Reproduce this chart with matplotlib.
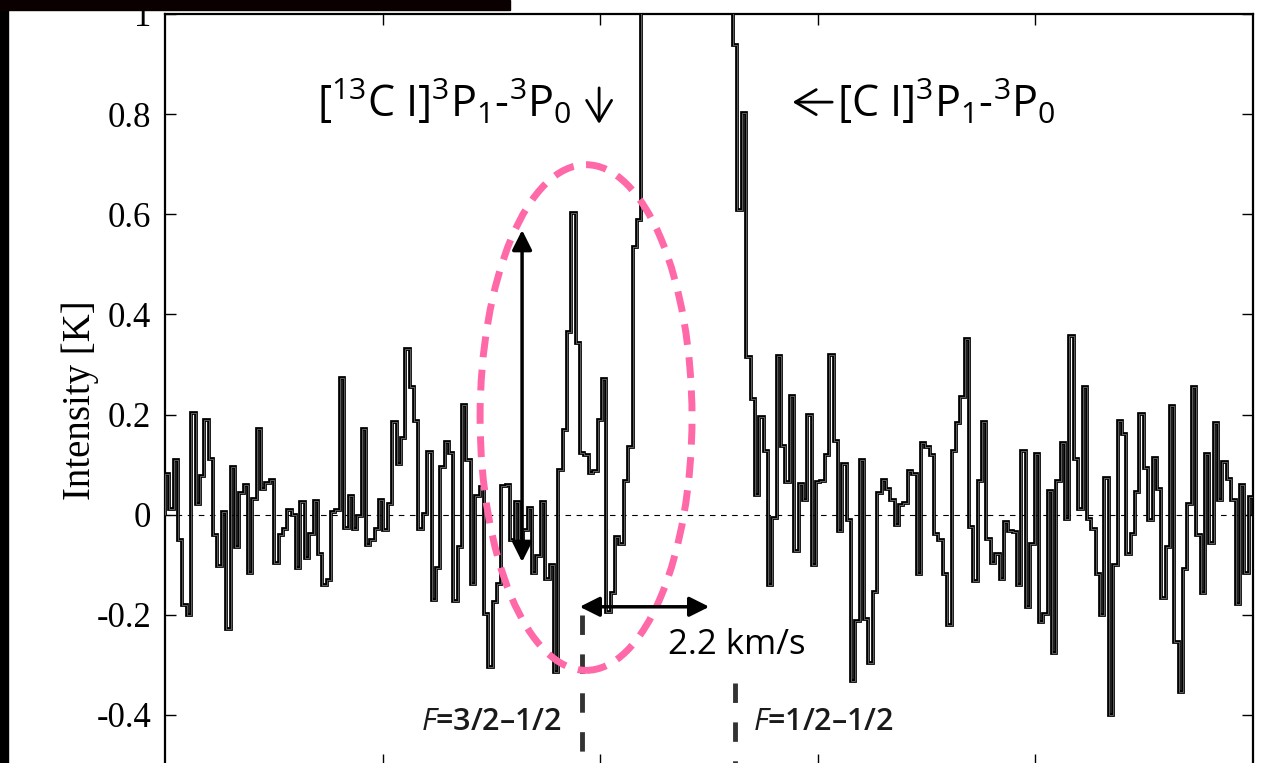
"""
[13C I] / [C I] 3P1-3P0 spectrum with annotations
"""
import matplotlib
matplotlib.use('Agg')
import matplotlib.pyplot as plt
import matplotlib.patches as mpatches
import numpy as np

plt.rcParams['mathtext.fontset'] = 'custom'
plt.rcParams['mathtext.rm'] = 'Open Sans'
plt.rcParams['mathtext.it'] = 'Open Sans:italic'
plt.rcParams['mathtext.fallback'] = 'stix'

# ---- spectrum (K), one value per channel ----
seg_left = [0.082, 0.012, 0.11, -0.051, -0.181, -0.201, 0.203, 0.021, 0.077, 0.19,
            0.111, -0.041, -0.103, 0.005, -0.228, 0.095, -0.065, 0.043, 0.059, -0.117,
            0.031, 0.171, 0.052, 0.063, 0.069, -0.097, -0.041, -0.028, 0.01, -0.001,
            -0.107, 0.025, -0.087, -0.038, 0.027, -0.079, -0.141, -0.13, 0.005, 0.01,
            0.273, -0.026, 0.037, -0.028, -0.003, 0.172, -0.06, -0.05, -0.028, 0.03,
            -0.031, 0.022, 0.185, 0.101, 0.153, 0.33, 0.255, 0.187, -0.028, 0.002,
            0.125, -0.171]
seg_13c = [-0.107, 0.095, 0.145, 0.123, -0.173, -0.065, 0.22, 0.109, -0.138, 0.037,
           0.055, -0.198, -0.305, -0.175, -0.138, 0.057, 0.059, -0.051, 0.025, -0.048,
           -0.03, 0.014, -0.117, -0.083, 0.025, -0.128, -0.1, -0.315, 0.089, 0.17,
           0.365, 0.603, 0.342, 0.123, 0.119, 0.083, 0.087, 0.189, 0.27, -0.195,
           -0.157, -0.045, -0.059, 0.067, 0.135, 0.535, 0.589]
# main [C I] line, off scale
seg_ci = [1.3, 2.1, 3.2, 4.5, 5.6, 6.4, 6.9, 7.1, 7.0, 6.6,
          5.9, 5.0, 4.1, 3.2, 2.5, 1.9, 1.5, 1.3, 1.2, 1.1, 1.05]
seg_right = [0.939, 0.609, 0.802, 0.315, 0.232, 0.04, 0.195, 0.128, -0.14, -0.006,
             0.316, 0.137, 0.065, 0.237, -0.073, 0.061, 0.03, 0.2, -0.1, 0.065,
             0.067, 0.119, 0.318, 0.148, -0.033, 0.101, -0.011, -0.333, -0.212, 0.11,
             -0.208, -0.297, -0.154, 0.043,
             0.07, 0.052, 0.029, -0.021, 0.019, 0.023, 0.087, 0.081, -0.119, 0.143,
             0.135, 0.12, -0.038, -0.051, -0.118, -0.221, 0.127, 0.183, 0.235, 0.35,
             -0.025, -0.133, 0.067, 0.185, -0.048, -0.097, -0.079, -0.128, -0.015, -0.033,
             -0.035, -0.141, 0.127, -0.185, -0.058, 0.121, -0.215, -0.198, 0.047, -0.277,
             0.067,
             0.143, -0.008, 0.357, 0.112, 0.012, 0.254, -0.008, -0.028, -0.118, -0.201,
             0.074, -0.401, -0.1, 0.187, 0.161, -0.078, -0.038, 0.045, 0.201, 0.094,
             -0.01, 0.114, 0.052, -0.166, -0.065, 0.217, -0.255, -0.355, -0.108, 0.021,
             0.255, -0.041, -0.157, 0.121, -0.057, 0.183, 0.03, 0.105, 0.072, 0.029,
             -0.178, 0.059, -0.117, 0.035]

intensity = np.array(seg_left + seg_13c + seg_ci + seg_right)
x_lo, x_hi = 0.0, 5.0
edges = np.linspace(x_lo, x_hi, len(intensity) + 1)

y_ticks = [-0.4, -0.2, 0, 0.2, 0.4, 0.6, 0.8, 1]
y_ticklabels = ['-0.4', '-0.2', '0', '0.2', '0.4', '0.6', '0.8', '1']
x_ticks = [1, 2, 3, 4]

pink = '#ff69a8'
serif = ['Liberation Serif', 'DejaVu Serif']
sans = ['Open Sans', 'DejaVu Sans']

fig = plt.figure(figsize=(12.67, 7.63), dpi=100, facecolor='white')
ax = fig.add_axes([165 / 1267, -2 / 763, 1088 / 1267, 751 / 763])

# outlined step line (black edge, grey core)
ax.stairs(intensity, edges, color='black', linewidth=2.7, zorder=3)
ax.stairs(intensity, edges, color='#6e6e6e', linewidth=0.6, zorder=4)
ax.axhline(0, color='black', linewidth=0.8, linestyle=(0, (5, 5)), zorder=2)

ax.set_xlim(x_lo, x_hi)
ax.set_ylim(-0.5, 1.0)
ax.set_xticks(x_ticks)
ax.set_yticks(y_ticks)
ax.set_yticklabels(y_ticklabels, family=serif, fontsize=25)
ax.tick_params(direction='in', length=8, width=1, top=True, right=True,
               labelbottom=False, pad=10)
for s in ax.spines.values():
    s.set_linewidth(1.6)

fig.text(80 / 1267, 1 - 400 / 763, 'Intensity [K]', rotation=90, ha='center', va='center',
         family=serif, fontsize=28)

# line labels
head = '->, head_length=0.5, head_width=0.3'
ax.text(0.70, 0.824, r'[$^{13}$C I]$^{3}$P$_{1}$-$^{3}$P$_{0}$', family=sans, fontsize=31,
        ha='left', va='center')
ax.annotate('', xy=(1.995, 0.775), xytext=(1.995, 0.858),
            arrowprops=dict(arrowstyle=head, color='black', lw=2, mutation_scale=30))
ax.annotate('', xy=(2.872, 0.824), xytext=(3.079, 0.824),
            arrowprops=dict(arrowstyle=head, color='black', lw=2, mutation_scale=30))
ax.text(3.09, 0.824, r'[C I]$^{3}$P$_{1}$-$^{3}$P$_{0}$', family=sans, fontsize=31,
        ha='left', va='center')

# hyperfine component markers
ax.plot([1.916, 1.916], [-0.2, -0.5], color='#333333', linewidth=3.5,
        linestyle=(0, (4, 4)), zorder=5)
ax.plot([2.619, 2.619], [-0.336, -0.5], color='#333333', linewidth=3.5,
        linestyle=(0, (4, 4)), zorder=5)
ax.text(1.82, -0.414, r'$\it{F}$=3/2–1/2', family=sans, fontsize=22, ha='right', va='center',
        color='#1a1a1a', fontweight='semibold')
ax.text(2.70, -0.414, r'$\it{F}$=1/2–1/2', family=sans, fontsize=22, ha='left', va='center',
        color='#1a1a1a', fontweight='semibold')

# pink dashed ellipse around the 13C feature
ell = mpatches.Ellipse((1.935, 0.194), 0.974, 1.01, fill=False, edgecolor=pink,
                       linewidth=5, linestyle=(0, (3, 1.8)), zorder=6)
ax.add_patch(ell)

# arrows
ax.annotate('', xy=(1.641, 0.574), xytext=(1.641, -0.1),
            arrowprops=dict(arrowstyle='<|-|>', color='black', lw=2.5, mutation_scale=30),
            zorder=7)
ax.annotate('', xy=(1.893, -0.184), xytext=(2.514, -0.184),
            arrowprops=dict(arrowstyle='<|-|>', color='black', lw=2.5, mutation_scale=30),
            zorder=7)
ax.text(2.312, -0.26, '2.2 km/s', family=sans, fontsize=25, ha='left', va='center')

# dark screenshot edges
fig.patches.append(mpatches.Rectangle((0, 0), 8 / 1267, 1, transform=fig.transFigure,
                                      color='black', zorder=10))
fig.patches.append(mpatches.Rectangle((0, 1 - 10 / 763), 510 / 1267, 10 / 763,
                                      transform=fig.transFigure, color='#0a0000', zorder=10))

fig.savefig('out.png', dpi=100, facecolor='white')
